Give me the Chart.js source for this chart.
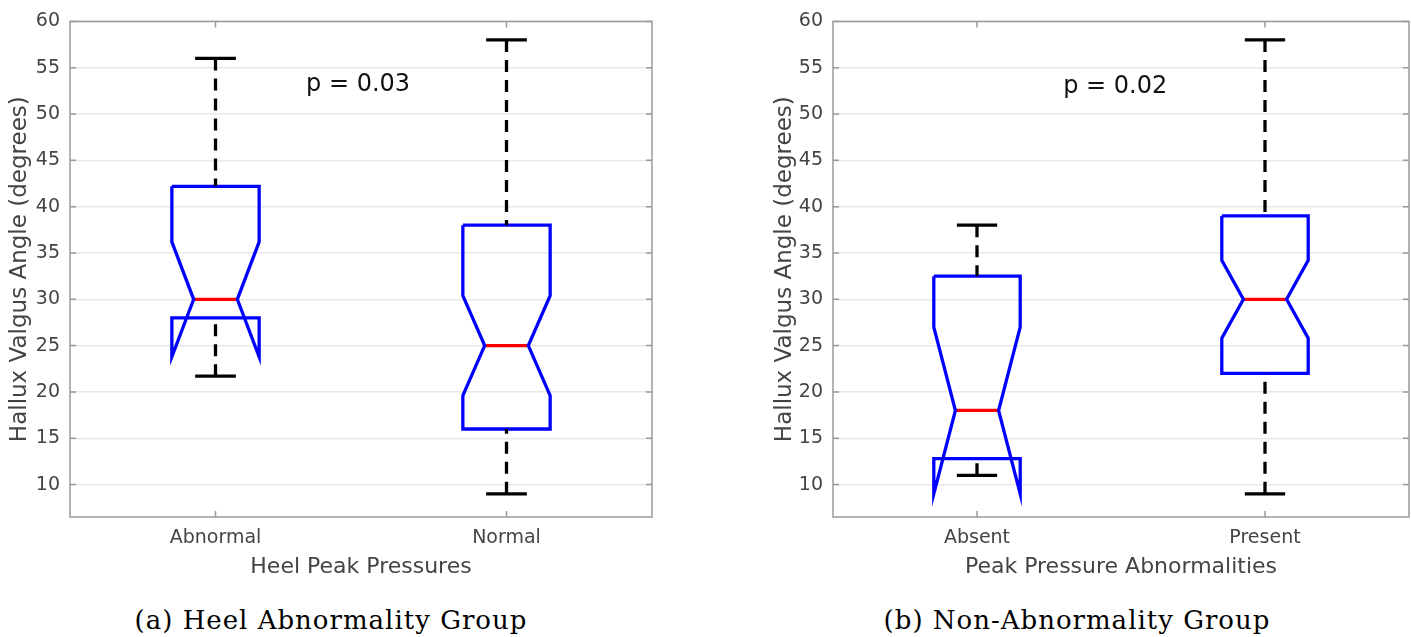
<!DOCTYPE html>
<html>
<head>
<meta charset="utf-8">
<script src="https://cdn.jsdelivr.net/npm/chart.js@4.4.1/dist/chart.umd.min.js"></script>
<style>
    body { margin: 0; background: #fff; width: 1411px; height: 637px; overflow: hidden; position: relative; }
    .panel { position: absolute; top: 0; height: 590px; }
    .caption { position: absolute; top: 605px; font-family: "DejaVu Serif", serif; font-size: 26px;
               letter-spacing: 1px; color: #000; white-space: nowrap; transform: translateX(-50%); }
</style>
</head>
<body>
<div class="panel" style="left:0px; width:660px;"><canvas id="chartA"></canvas></div>
<div class="panel" style="left:765px; width:646px;"><canvas id="chartB"></canvas></div>
<div class="caption" style="left:331px;">(a) Heel Abnormality Group</div>
<div class="caption" style="left:1077px;">(b) Non-Abnormality Group</div>

<script>
// Values (degrees)
const yTicks = [10, 15, 20, 25, 30, 35, 40, 45, 50, 55, 60];

// (a) Heel abnormality group
const groupsA    = ['Abnormal', 'Normal'];
const whiskLoA   = [21.7, 9];
const q1A        = [28, 16];
const notchLoA   = [23.8, 19.6];
const medianA    = [30, 25];
const notchHiA   = [36.2, 30.4];
const q3A        = [42.2, 38];
const whiskHiA   = [56, 58];
const pTextA     = 'p = 0.03';

// (b) Non-abnormality group
const groupsB    = ['Absent', 'Present'];
const whiskLoB   = [11, 9];
const q1B        = [12.8, 22];
const notchLoB   = [9, 25.8];
const medianB    = [18, 30];
const notchHiB   = [27, 34.2];
const q3B        = [32.5, 39];
const whiskHiB   = [38, 58];
const pTextB     = 'p = 0.02';

const BOX_W = 0.15;     // half width of box
const NOTCH_W = 0.075;  // half width at the median
const CAP_W = 0.07;     // half width of whisker caps

function seg(points, color, dash) {
    return {
        data: points,
        showLine: true,
        pointRadius: 0,
        borderColor: color,
        borderWidth: 3.3,
        borderDash: dash || [],
        borderCapStyle: 'butt',
        borderJoinStyle: 'miter',
        fill: false,
        tension: 0
    };
}

function buildDatasets(lo, q1, nLo, med, nHi, q3, hi) {
    const sets = [];
    for (let i = 0; i < med.length; i++) {
        const c = i + 1;
        // whiskers
        sets.push(seg([{x: c, y: hi[i]}, {x: c, y: q3[i]}], '#000', [12, 8]));
        sets.push(seg([{x: c, y: lo[i]}, {x: c, y: q1[i]}], '#000', [12, 8]));
        sets.push(seg([{x: c - CAP_W, y: hi[i]}, {x: c + CAP_W, y: hi[i]}], '#000'));
        sets.push(seg([{x: c - CAP_W, y: lo[i]}, {x: c + CAP_W, y: lo[i]}], '#000'));
        // notched box outline
        sets.push(seg([
            {x: c - BOX_W, y: q3[i]}, {x: c + BOX_W, y: q3[i]},
            {x: c + BOX_W, y: nHi[i]}, {x: c + NOTCH_W, y: med[i]},
            {x: c + BOX_W, y: nLo[i]}, {x: c + BOX_W, y: q1[i]},
            {x: c - BOX_W, y: q1[i]}, {x: c - BOX_W, y: nLo[i]},
            {x: c - NOTCH_W, y: med[i]}, {x: c - BOX_W, y: nHi[i]},
            {x: c - BOX_W, y: q3[i]}
        ], '#0000ff'));
        // median
        sets.push(seg([{x: c - NOTCH_W, y: med[i]}, {x: c + NOTCH_W, y: med[i]}], '#ff0000'));
    }
    return sets;
}

// axes frame with inward ticks, like the original figure
const framePlugin = {
    id: 'frame',
    afterDatasetsDraw(chart) {
        const {ctx, chartArea: a, scales: {x, y}} = chart;
        ctx.save();
        ctx.strokeStyle = '#9a9a9a';
        ctx.lineWidth = 1.5;
        ctx.strokeRect(a.left, a.top, a.right - a.left, a.bottom - a.top);
        ctx.beginPath();
        y.ticks.forEach(t => {
            const py = y.getPixelForValue(t.value);
            ctx.moveTo(a.left, py); ctx.lineTo(a.left + 6, py);
            ctx.moveTo(a.right, py); ctx.lineTo(a.right - 6, py);
        });
        x.ticks.forEach(t => {
            const px = x.getPixelForValue(t.value);
            ctx.moveTo(px, a.bottom); ctx.lineTo(px, a.bottom - 6);
            ctx.moveTo(px, a.top); ctx.lineTo(px, a.top + 6);
        });
        ctx.stroke();
        ctx.restore();
    }
};

const pTextPlugin = {
    id: 'ptext',
    afterDatasetsDraw(chart, args, opts) {
        const {ctx, scales: {x, y}} = chart;
        ctx.save();
        ctx.font = '24px "DejaVu Sans"';
        ctx.fillStyle = '#111';
        ctx.textAlign = 'center';
        ctx.textBaseline = 'middle';
        ctx.fillText(opts.text, x.getPixelForValue(opts.x), y.getPixelForValue(opts.y));
        ctx.restore();
    }
};

function makeChart(id, groups, datasets, xTitle, pText, pX, pY, yWidth, pad) {
    return new Chart(document.getElementById(id), {
        type: 'scatter',
        data: { datasets: datasets },
        plugins: [framePlugin, pTextPlugin],
        options: {
            responsive: true,
            maintainAspectRatio: false,
            animation: false,
            layout: { padding: pad },
            scales: {
                x: {
                    type: 'linear',
                    min: 0.5,
                    max: 2.5,
                    afterBuildTicks: s => { s.ticks = groups.map((g, i) => ({value: i + 1})); },
                    afterFit: s => { s.height = 73; },
                    ticks: {
                        callback: (v) => groups[v - 1],
                        color: '#444',
                        font: { family: 'DejaVu Sans', size: 19 },
                        padding: 10,
                        maxRotation: 0
                    },
                    grid: { display: false, drawTicks: false },
                    border: { display: false },
                    title: {
                        display: true,
                        text: xTitle,
                        color: '#444',
                        font: { family: 'DejaVu Sans', size: 22 },
                        padding: { bottom: 10 }
                    }
                },
                y: {
                    min: 6.5,
                    max: 60,
                    afterBuildTicks: s => { s.ticks = yTicks.map(v => ({value: v})); },
                    afterFit: s => { s.width = yWidth; },
                    ticks: {
                        color: '#444',
                        font: { family: 'DejaVu Sans', size: 19 },
                        padding: 10
                    },
                    grid: { color: '#e8e8e8', lineWidth: 1.5, drawTicks: false },
                    border: { display: false },
                    title: {
                        display: true,
                        text: 'Hallux Valgus Angle (degrees)',
                        color: '#444',
                        font: { family: 'DejaVu Sans', size: 23 },
                        padding: { top: 6, bottom: 0 }
                    }
                }
            },
            plugins: {
                legend: { display: false },
                tooltip: { enabled: false },
                ptext: { text: pText, x: pX, y: pY }
            }
        }
    });
}

makeChart('chartA', groupsA,
    buildDatasets(whiskLoA, q1A, notchLoA, medianA, notchHiA, q3A, whiskHiA),
    'Heel Peak Pressures', pTextA, 1.49, 53.2, 70,
    { left: 0, right: 8, top: 18, bottom: 0 });

makeChart('chartB', groupsB,
    buildDatasets(whiskLoB, q1B, notchLoB, medianB, notchHiB, q3B, whiskHiB),
    'Peak Pressure Abnormalities', pTextB, 1.48, 52.9, 68,
    { left: 0, right: 2, top: 20, bottom: 0 });
</script>
</body>
</html>
